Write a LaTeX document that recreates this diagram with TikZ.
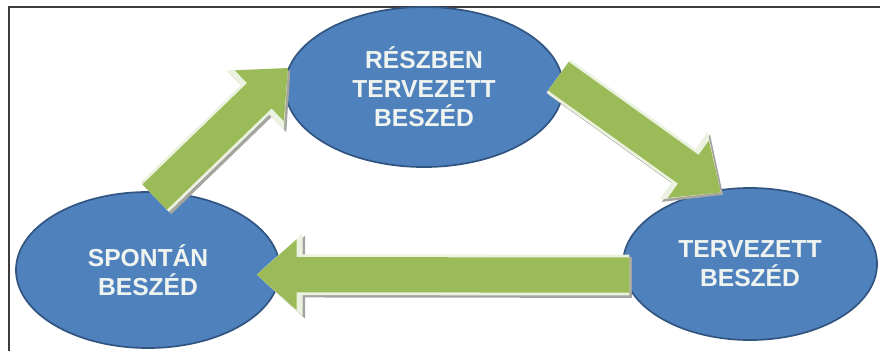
\documentclass[tikz,border=0pt]{standalone}
\usepackage{fontspec}
\setmainfont{Liberation Sans}
\usepackage{tikz}
\usetikzlibrary{shapes.geometric, arrows.meta}

\definecolor{ovalfill}{RGB}{79,129,189}
\definecolor{ovalline}{RGB}{50,84,128}
\definecolor{ovaltext}{RGB}{240,244,240}
\definecolor{arrowgreen}{RGB}{155,187,89}
\definecolor{arrowrim}{RGB}{236,242,224}
\definecolor{rimshadow}{RGB}{165,165,160}
\definecolor{framegray}{RGB}{60,60,60}

\begin{document}
\begin{tikzpicture}[x = 0.025cm, y = -0.025cm,
                      oval/.style = {ellipse, draw = ovalline, fill = ovalfill, line width = 1.2pt,
                                     text = ovaltext, align = center, inner sep = 0pt,
                                     font = \bfseries\fontsize{17.5}{20.5}\selectfont},
                      bigarrow/.style = {draw = arrowgreen, line width = 0.88cm,
                                         -{Triangle[length = 1cm, width = 1.7cm]},
                                         preaction = {draw = rimshadow, line width = 1.02cm,
                                                      -{Triangle[length = 1.15cm, width = 2cm]},
                                                      transform canvas = {shift = {(0.06cm, -0.06cm)}}},
                                         preaction = {draw = arrowrim, line width = 1.02cm,
                                                      -{Triangle[length = 1.15cm, width = 2cm]}}}]
    \useasboundingbox (0, 0) rectangle (880, 351);
    \draw[framegray, line width = 0.05cm] (880, 6.5) -- (9, 6.5) -- (9, 351);

    \node [oval, minimum width = 6.6cm, minimum height = 3.9cm] (spont) at (148, 270) {SPONTÁN\\BESZÉD};
    \node [oval, minimum width = 6.95cm, minimum height = 4cm] (resz) at (424, 87) {RÉSZBEN\\TERVEZETT\\BESZÉD};
    \node [oval, minimum width = 6.35cm, minimum height = 3.8cm] (terv) at (750, 264) {TERVEZETT\\BESZÉD};

    \draw[bigarrow, shorten <= -0.2cm] (spont.81) -- (resz.172);
    \draw[bigarrow, shorten <= -0.15cm, shorten >= -0.12cm] (resz.3) -- (terv.114);
    \draw[bigarrow, shorten <= -0.15cm, shorten >= -0.6cm] (terv.185) -- (spont.-2);
\end{tikzpicture}
\end{document}
